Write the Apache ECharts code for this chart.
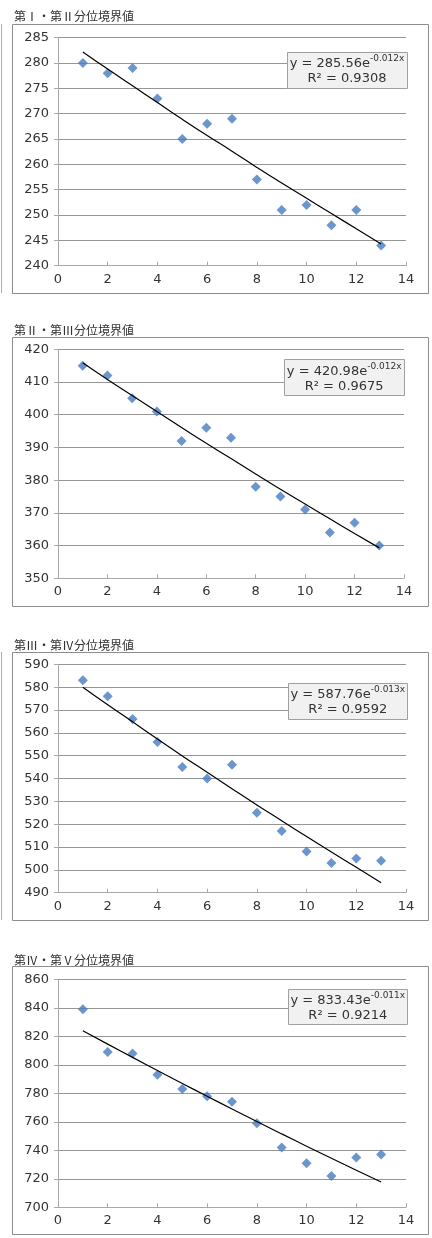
<!DOCTYPE html>
<html>
<head>
<meta charset="utf-8">
<script src="https://cdn.jsdelivr.net/npm/echarts@6/dist/echarts.min.js"></script>
<style>
  html, body { margin: 0; padding: 0; background: #fff; }
  #chart { width: 432px; height: 1238px; }
</style>
</head>
<body>
<div id="chart"></div>
<script>
// x = 1..13 for every panel
var xValues = [1, 2, 3, 4, 5, 6, 7, 8, 9, 10, 11, 12, 13];

var titles = ['第Ⅰ・第Ⅱ分位境界値', '第Ⅱ・第Ⅲ分位境界値', '第Ⅲ・第Ⅳ分位境界値', '第Ⅳ・第Ⅴ分位境界値'];

// measured points
var q12 = [280, 278, 279, 273, 265, 268, 269, 257, 251, 252, 248, 251, 244];
var q23 = [415, 412, 405, 401, 392, 396, 393, 378, 375, 371, 364, 367, 360];
var q34 = [583, 576, 566, 556, 545, 540, 546, 525, 517, 508, 503, 505, 504];
var q45 = [839, 809, 808, 793, 783, 778, 774, 759, 742, 731, 722, 735, 737];

// trend lines at each x
var trend12 = [282.2, 278.8, 275.5, 272.2, 268.9, 265.7, 262.6, 259.4, 256.3, 253.3, 250.3, 247.3, 244.3];
var trend23 = [415.9, 410.8, 405.9, 401.0, 396.1, 391.3, 386.6, 381.9, 377.2, 372.7, 368.2, 363.7, 359.3];
var trend34 = [580.0, 572.3, 564.8, 557.3, 549.9, 542.7, 535.5, 528.4, 521.5, 514.6, 507.8, 501.1, 494.4];
var trend45 = [823.9, 814.5, 805.2, 796.0, 786.9, 777.9, 769.0, 760.2, 751.5, 742.9, 734.4, 726.0, 717.7];

// trend labels
var eqCoef = ['285.56', '420.98', '587.76', '833.43'];
var eqExp = ['-0.012x', '-0.012x', '-0.013x', '-0.011x'];
var eqR2 = ['0.9308', '0.9675', '0.9592', '0.9214'];

// axis ranges
var yMins = [240, 350, 490, 700];
var yMaxs = [285, 420, 590, 860];
var ySteps = [5, 10, 10, 20];
var xMin = 0, xMax = 14, xStep = 2;

var pointSets = [q12, q23, q34, q45];
var trendSets = [trend12, trend23, trend34, trend45];

// layout (px)
var panels = [
  {top: 37.7, height: 228, right: 26, frame: [12, 24, 428, 293], title: 10, box: [287, 52, 407, 88]},
  {top: 349.3, height: 229, right: 28, frame: [12, 336.7, 428, 606], title: 324.5, box: [284, 359.3, 404.3, 395.7]},
  {top: 664.3, height: 228.4, right: 26, frame: [12, 651.7, 428, 919.3], title: 639.5, box: [288.3, 682.7, 407.3, 719]},
  {top: 979.3, height: 228, right: 26, frame: [12, 965.7, 428, 1233.3], title: 954.5, box: [288.3, 989, 407.3, 1024.3]}
];

var textColor = '#333';
var labelFont = 'DejaVu Sans';

function pairs(ys) {
  return xValues.map(function (x, i) { return [x, ys[i]]; });
}

var grid = [], xAxis = [], yAxis = [], series = [], title = [], graphic = [];

panels.forEach(function (p, i) {
  grid.push({left: 58, right: p.right, top: p.top, height: p.height});
  title.push({
    text: titles[i], left: 14, top: p.title, padding: 0,
    textStyle: {fontFamily: 'Noto Sans CJK JP', fontSize: 12, fontWeight: 'normal', color: '#333'}
  });
  xAxis.push({
    type: 'value', gridIndex: i, min: xMin, max: xMax, interval: xStep,
    axisLine: {show: true, lineStyle: {color: '#a8a8a8', width: 1}},
    axisTick: {show: true, inside: true, length: 4, lineStyle: {color: '#a8a8a8'}},
    axisLabel: {margin: 7, color: textColor, fontFamily: labelFont, fontSize: 13},
    splitLine: {show: false}
  });
  yAxis.push({
    type: 'value', gridIndex: i, min: yMins[i], max: yMaxs[i], interval: ySteps[i],
    axisLine: {show: true, lineStyle: {color: '#a8a8a8', width: 1}},
    axisTick: {show: true, length: 4, lineStyle: {color: '#a8a8a8'}},
    axisLabel: {margin: 9, color: textColor, fontFamily: labelFont, fontSize: 13},
    splitLine: {show: true, lineStyle: {color: '#969696', width: 1}}
  });
  series.push({
    type: 'line', xAxisIndex: i, yAxisIndex: i,
    data: pairs(trendSets[i]), showSymbol: false, smooth: true,
    lineStyle: {color: '#000', width: 1.2}, z: 3, silent: true
  });
  series.push({
    type: 'scatter', xAxisIndex: i, yAxisIndex: i,
    data: pairs(pointSets[i]), symbol: 'diamond', symbolSize: [10, 10],
    itemStyle: {color: '#467cc0'}, z: 2
  });

  var f = p.frame;
  graphic.push({
    type: 'rect', silent: true, z: 0,
    shape: {x: f[0] + 0.5, y: Math.round(f[1]) + 0.5, width: f[2] - f[0], height: Math.round(f[3] - f[1])},
    style: {fill: 'none', stroke: '#8c8c8c', lineWidth: 1}
  });

  var b = p.box;
  var cx = (b[0] + b[2]) / 2;
  graphic.push({
    type: 'rect', silent: true, z: 10,
    shape: {x: Math.round(b[0]) + 0.5, y: Math.round(b[1]) + 0.5, width: Math.round(b[2] - b[0]), height: Math.round(b[3] - b[1])},
    style: {fill: '#f1f1f1', stroke: '#a0a0a0', lineWidth: 1}
  });
  graphic.push({
    type: 'text', silent: true, z: 11,
    x: cx, y: b[1] + 10.5,
    style: {
      text: '{a|y = ' + eqCoef[i] + 'e}{s|' + eqExp[i] + '}',
      align: 'center', verticalAlign: 'middle',
      rich: {
        a: {fontFamily: labelFont, fontSize: 13, fill: textColor, lineHeight: 16, verticalAlign: 'bottom'},
        s: {fontFamily: labelFont, fontSize: 9, fill: textColor, lineHeight: 16, verticalAlign: 'top'}
      }
    }
  });
  graphic.push({
    type: 'text', silent: true, z: 11,
    x: cx, y: b[1] + 27,
    style: {
      text: 'R² = ' + eqR2[i],
      align: 'center', verticalAlign: 'middle',
      fontFamily: labelFont, fontSize: 13, fill: textColor
    }
  });
});

// thin stray border on the left edge (panels 1 and 3)
graphic.push({type: 'line', silent: true, shape: {x1: 1.5, y1: 24, x2: 1.5, y2: 293}, style: {stroke: '#b0b0b0', lineWidth: 1}});
graphic.push({type: 'line', silent: true, shape: {x1: 1.5, y1: 652, x2: 1.5, y2: 920}, style: {stroke: '#b0b0b0', lineWidth: 1}});

var chart = echarts.init(document.getElementById('chart'));
chart.setOption({
  backgroundColor: '#fff',
  animation: false,
  title: title,
  grid: grid,
  xAxis: xAxis,
  yAxis: yAxis,
  series: series,
  graphic: graphic
});
</script>
</body>
</html>
